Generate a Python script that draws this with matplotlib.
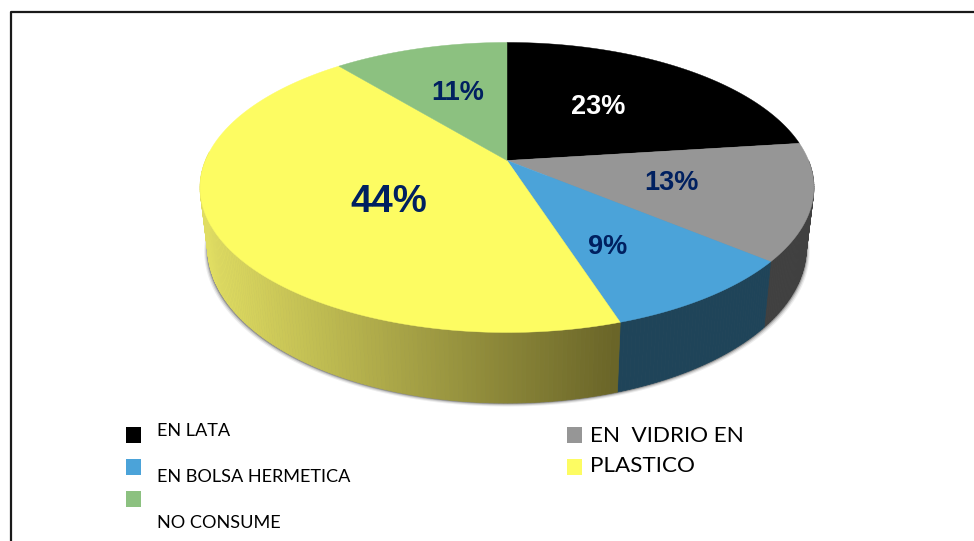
import matplotlib
matplotlib.use('Agg')
import matplotlib.pyplot as plt
from matplotlib.colors import to_rgb
from matplotlib.patches import Rectangle
import numpy as np

# Data
categories = ['EN LATA', 'EN  VIDRIO EN', 'EN BOLSA HERMETICA', 'PLASTICO', 'NO CONSUME']
values = [23, 13, 9, 44, 11]
labels = ['23%', '13%', '9%', '44%', '11%']
colors = ['#000000', '#969696', '#4BA3D9', '#FDFC62', '#8CC180']
side_colors = ['#000000', '#404040', '#1F4459', None, '#8CC180']
label_colors = ['white', '#002060', '#002060', '#002060', '#002060']

CX, CY = 507, 160.5
A, B, K = 301.6, 140, 0.186


def top_edge(frac):
    # point on the disc rim, frac runs clockwise from 12 o'clock, with perspective
    t = 2 * np.pi * np.asarray(frac)
    w = 1 + K * np.cos(t)
    return CX + A * np.sin(t) / w, CY - B * np.cos(t) / w


def bottom_edge(frac):
    x, y = top_edge(frac)
    return CX + 0.975 * (x - CX), 219 + 1.07 * (y - CY)


fig = plt.figure(figsize=(9.74, 5.41), dpi=100)
ax = fig.add_axes([0, 0, 1, 1])
ax.set_xlim(0, 974)
ax.set_ylim(541, 0)
ax.axis('off')

# Frame
ax.plot([10.5, 10.5, 974], [541, 11.5, 11.5], color='#1a1a1a', lw=1.6)

# Soft shadow under the disc
f = np.linspace(0.2, 0.8, 200)
bx, by = bottom_edge(f)
for off, alpha in [(3.5, 0.1), (2.5, 0.18), (1.5, 0.3), (0.8, 0.4)]:
    ax.fill(CX + (bx - CX) * (1 + off / 300), by + off, color='#555555', alpha=alpha, lw=0)

yellow_left = np.array(to_rgb('#E0DD62'))
yellow_right = np.array(to_rgb('#6A6528'))

edges = np.concatenate([[0], np.cumsum(values)]) / sum(values)

# Side wall
for i in range(len(values)):
    start, stop = edges[i], edges[i + 1]
    if stop <= 0.25 or start >= 0.76:
        continue
    start, stop = max(start, 0.25), min(stop, 0.76)
    steps = np.linspace(start, stop, int((stop - start) * 500) + 2)
    for a, b in zip(steps[:-1], steps[1:]):
        xt, yt = top_edge([a, b])
        xb, yb = bottom_edge([a, b])
        if side_colors[i] is None:
            pos = np.clip((xt.mean() - 205) / 410, 0, 1)
            c = yellow_left + (yellow_right - yellow_left) * pos
        else:
            c = side_colors[i]
        ax.fill([xt[0], xt[1], xb[1], xb[0]], [yt[0], yt[1], yb[1], yb[0]],
                facecolor=c, edgecolor=c, lw=0.5)

# Top face
for i in range(len(values)):
    steps = np.linspace(edges[i], edges[i + 1], 120)
    x, y = top_edge(steps)
    ax.fill(np.r_[CX, x], np.r_[CY, y], facecolor=colors[i], edgecolor=colors[i], lw=0.3)

# Percent labels
label_pos = [(598, 106.5), (671, 183.5), (608, 246.5), (389, 201.5), (458, 92.5)]
label_size = [19.5, 19.5, 19.5, 27.5, 19.5]
for txt, pos, c, s in zip(labels, label_pos, label_colors, label_size):
    ax.text(pos[0], pos[1], txt, color=c, fontsize=s, fontweight='bold',
            family='Liberation Sans', ha='center', va='center')

# Legend
squares = [(126, 427, 0), (126, 459, 2), (126, 491, 4), (567, 427, 1), (567, 459, 3)]
for x, y, i in squares:
    ax.add_patch(Rectangle((x, y), 15, 16, facecolor=colors[i], lw=0))

ax.text(157, 431.5, categories[0], fontsize=13.1, family='Lato', va='center', color='black')
ax.text(157, 477, categories[2], fontsize=13.1, family='Lato', va='center', color='black')
ax.text(157, 523, categories[4], fontsize=13.1, family='Lato', va='center', color='black')
ax.text(590, 436, categories[1], fontsize=16.2, family='Lato', va='center', color='black')
ax.text(590, 466.5, categories[3], fontsize=16.2, family='Lato', va='center', color='black')

fig.savefig('out.png', dpi=100)
